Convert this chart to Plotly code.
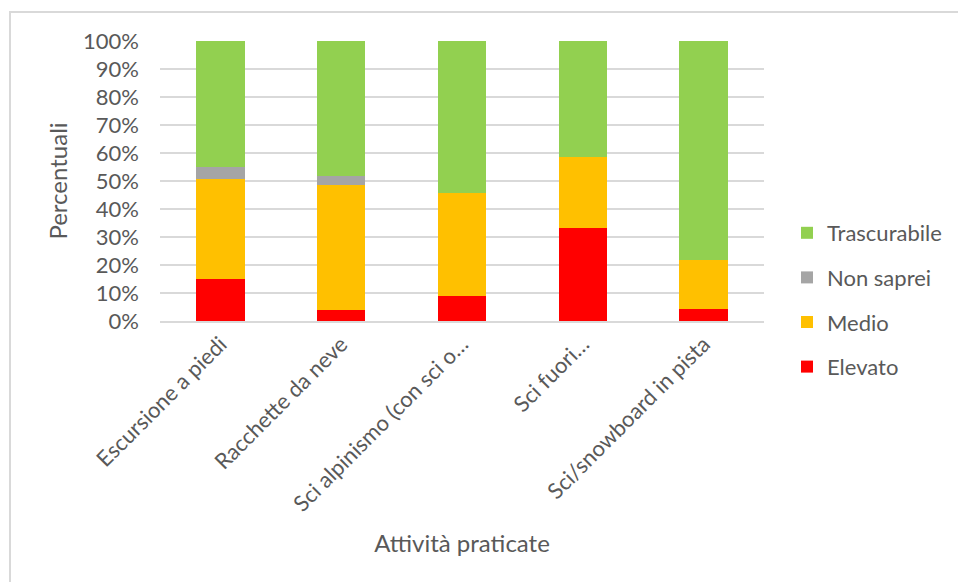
import plotly.graph_objects as go

categories = ["Escursione a piedi", "Racchette da neve", "Sci alpinismo (con sci o…",
              "Sci fuori…", "Sci/snowboard in pista"]
elevato = [15.0, 3.8, 8.9, 33.3, 4.3]
medio = [35.7, 44.7, 36.7, 25.3, 17.5]
non_saprei = [4.2, 3.2, 0.0, 0.0, 0.0]
trascurabile = [45.1, 48.3, 54.4, 41.4, 78.2]
y_ticks = [0, 10, 20, 30, 40, 50, 60, 70, 80, 90, 100]
y_tick_labels = [f"{v}%" for v in y_ticks]

series = [
    ("Elevato", elevato, "#ff0000"),
    ("Medio", medio, "#ffc000"),
    ("Non saprei", non_saprei, "#a5a5a5"),
    ("Trascurabile", trascurabile, "#92d050"),
]

FONT = "Lato"
TXT = "#595959"

fig = go.Figure()
for i, (name, vals, col) in enumerate(series):
    fig.add_trace(go.Bar(x=categories, y=vals, name=name, marker_color=col,
                         marker_line_width=0, legendgroup=name,
                         legendrank=1000 - i))

L, R, T, B = 160, 194, 41, 261
W, H = 958, 582
pw, ph = W - L - R, H - T - B

def px(x):
    return (x - L) / pw

def py(y):
    return (H - B - y) / ph

fig.update_layout(
    width=W, height=H,
    margin=dict(l=L, r=R, t=T, b=B, autoexpand=False),
    barmode="stack", bargap=0.6,
    paper_bgcolor="white", plot_bgcolor="white",
    font=dict(family=FONT, size=22, color=TXT),
    legend=dict(traceorder="grouped", x=px(787), xanchor="left",
                y=py(300), yanchor="middle", tracegroupgap=13,
                font=dict(size=22, color=TXT), bgcolor="rgba(0,0,0,0)"),
    xaxis=dict(showgrid=False, showline=True, linecolor="#d9d9d9", linewidth=1.5,
               tickangle=-45, ticks="", automargin=False,
               tickfont=dict(size=22, color=TXT),
               title=dict(text="Attività praticate", standoff=20,
                          font=dict(size=24, color=TXT))),
    yaxis=dict(range=[0, 100], tickmode="array", tickvals=y_ticks,
               ticktext=y_tick_labels,
               showgrid=True, gridcolor="#d9d9d9", gridwidth=1.5,
               zeroline=False, showline=False, ticks="", ticklabelstandoff=20,
               automargin=False, tickfont=dict(size=22, color=TXT),
               title=dict(text="Percentuali", standoff=8,
                          font=dict(size=24, color=TXT))),
    shapes=[dict(type="rect", xref="paper", yref="paper",
                 x0=px(10), x1=px(970), y0=py(600), y1=py(12),
                 line=dict(color="#d9d9d9", width=2), fillcolor="rgba(0,0,0,0)",
                 layer="below")],
)

fig.write_html("out.html")
